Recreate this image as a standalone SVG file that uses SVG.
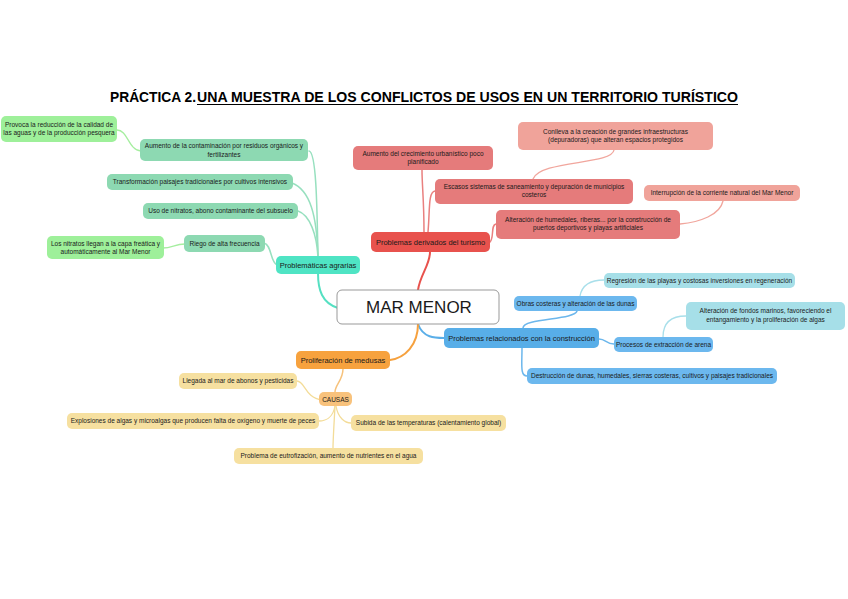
<svg xmlns="http://www.w3.org/2000/svg" width="848" height="599" viewBox="0 0 848 599">
<style>
text{font-family:"Liberation Sans",Arial,sans-serif;fill:#1a1a1a;text-anchor:middle}
.t{font-size:6.5px}
.m{font-size:7.5px}
.title{font-size:15px;font-weight:bold;text-anchor:start;fill:#000}
.c{fill:none;stroke-linecap:round}
.gm{stroke:#55e0c2;stroke-width:2}
.gc{stroke:#97e0bf;stroke-width:1.5}
.gg{stroke:#a5ee9f;stroke-width:1.3}
.rm{stroke:#e8524d;stroke-width:2}
.rc{stroke:#e9807f;stroke-width:1.5}
.rg{stroke:#f1a69d;stroke-width:1.3}
.bm{stroke:#5aaee8;stroke-width:2}
.bc{stroke:#6cb7ec;stroke-width:1.5}
.bg{stroke:#a8dfea;stroke-width:1.3}
.om{stroke:#f6a13e;stroke-width:2}
.oc{stroke:#f6c27c;stroke-width:1.5}
.og{stroke:#f3dc98;stroke-width:1.3}
.n{rx:5;ry:5}
</style>
<rect width="848" height="599" fill="#fff"/>
<g id="title">
<text class="title" x="110" y="102" textLength="86" lengthAdjust="spacingAndGlyphs">PRÁCTICA 2.</text>
<text class="title" x="197" y="102" textLength="541" lengthAdjust="spacingAndGlyphs">UNA MUESTRA DE LOS CONFLICTOS DE USOS EN UN TERRITORIO TURÍSTICO</text>
<line x1="197" y1="104.5" x2="738" y2="104.5" stroke="#000" stroke-width="1.2"/>
</g>
<g id="connectors">
<path class="c gm" d="M338,308 C322,303 318,290 318,273"/>
<path class="c gc" d="M318,258 C317,200 316,152 309,151"/>
<path class="c gc" d="M318,258 C317,215 310,190 292,183"/>
<path class="c gc" d="M318,258 C317,235 310,215 298,211"/>
<path class="c gc" d="M277,265 C270,262 272,245 264,243"/>
<path class="c gg" d="M141,151 C128,150 128,130 117,130"/>
<path class="c gg" d="M185,244 C175,244 172,248 163,248"/>
<path class="c rm" d="M418,290 C420,275 430,265 430,252"/>
<path class="c rc" d="M424,232 C424,200 422,185 422,170"/>
<path class="c rc" d="M428,232 C430,210 428,192 435,191"/>
<path class="c rc" d="M489,243 C495,240 490,225 496,224"/>
<path class="c rg" d="M533,179 C540,160 612,165 614,150"/>
<path class="c rg" d="M680,224 C700,222 720,215 723,201"/>
<path class="c bm" d="M418,324 C423,338 435,338 444,338"/>
<path class="c bc" d="M523,328 C523,318 575,320 577,311"/>
<path class="c bc" d="M522,348 C522,365 520,376 527,376"/>
<path class="c bc" d="M599,339 C606,339 606,344 614,344"/>
<path class="c bg" d="M580,296 C582,285 590,280 604,280"/>
<path class="c bg" d="M663,337 C663,320 675,316 686,316"/>
<path class="c om" d="M418,324 C418,345 405,358 390,360"/>
<path class="c oc" d="M343,369 C343,380 335,385 335,392"/>
<path class="c og" d="M322,400 C305,398 305,381 297,381"/>
<path class="c og" d="M335,406 C333,418 325,421 319,421"/>
<path class="c og" d="M336,406 C338,418 345,423 351,423"/>
<path class="c og" d="M335,406 C334,425 333,440 333,448"/>
</g>
<g id="center">
<rect x="337" y="290" width="162" height="34" rx="5" fill="#fff" stroke="#999" stroke-width="1"/>
<text x="419" y="313" style="font-size:17px">MAR MENOR</text>
</g>
<g id="g0"><rect class="n" x="276" y="256" width="84" height="18" fill="#4fe4c4"/><text class="m" x="318" y="267.7">Problemáticas agrarias</text></g>
<g id="g1"><rect class="n" x="140" y="139" width="168" height="22" fill="#8dd9b2"/><text class="t" x="224" y="148">Aumento de la contaminación por residuos orgánicos y</text><text class="t" x="224" y="156.5">fertilizantes</text></g>
<g id="g2"><rect class="n" x="1" y="116" width="116" height="26" fill="#9ef09a"/><text class="t" x="59" y="126.5">Provoca la reducción de la calidad de</text><text class="t" x="59" y="134.5">las aguas y de la producción pesquera</text></g>
<g id="g3"><rect class="n" x="107" y="174" width="186" height="16" fill="#8dd9b2"/><text class="t" x="200" y="184.3">Transformación paisajes tradicionales por cultivos intensivos</text></g>
<g id="g4"><rect class="n" x="143" y="203" width="155" height="16" fill="#8dd9b2"/><text class="t" x="220.5" y="213.3">Uso de nitratos, abono contaminante del subsuelo</text></g>
<g id="g5"><rect class="n" x="184" y="235" width="81" height="17" fill="#8dd9b2"/><text class="t" x="224.5" y="245.7">Riego de alta frecuencia</text></g>
<g id="g6"><rect class="n" x="47" y="236" width="117" height="23" fill="#9ef09a"/><text class="t" x="105.5" y="245.5">Los nitratos llegan a la capa freática y</text><text class="t" x="105.5" y="253.7">automáticamente al Mar Menor</text></g>
<g id="r0"><rect class="n" x="371" y="232" width="119" height="20" fill="#e8524d"/><text class="m" x="430.5" y="244.7">Problemas derivados del turismo</text></g>
<g id="r1"><rect class="n" x="353" y="146" width="140" height="24" fill="#e57b7b"/><text class="t" x="423" y="155.7">Aumento del crecimiento urbanístico poco</text><text class="t" x="423" y="164">planificado</text></g>
<g id="r2"><rect class="n" x="435" y="179" width="198" height="25" fill="#e57b7b"/><text class="t" x="534" y="188.7">Escasos sistemas de saneamiento y depuración de municipios</text><text class="t" x="534" y="197">costeros</text></g>
<g id="r3"><rect class="n" x="496" y="210" width="184" height="29" fill="#e57b7b"/><text class="t" x="588" y="221.5">Alteración de humedales, riberas... por la construcción de</text><text class="t" x="588" y="230">puertos deportivos y playas artificiales</text></g>
<g id="r4"><rect class="n" x="518" y="122" width="195" height="28" fill="#f0a39a"/><text class="t" x="615.5" y="133.5">Conlleva a la creación de grandes infraestructuras</text><text class="t" x="615.5" y="141.7">(depuradoras) que alteran espacios protegidos</text></g>
<g id="r5"><rect class="n" x="644" y="185" width="156" height="16" fill="#f0a39a"/><text class="t" x="722" y="195.3">Interrupción de la corriente natural del Mar Menor</text></g>
<g id="b0"><rect class="n" x="444" y="328" width="155" height="20" fill="#58aee8"/><text class="m" x="521.5" y="340.7">Problemas relacionados con la construcción</text></g>
<g id="b1"><rect class="n" x="514" y="296" width="123" height="15" fill="#6cb8ee"/><text class="t" x="575.5" y="305.8">Obras costeras y alteración de las dunas</text></g>
<g id="b2"><rect class="n" x="614" y="337" width="99" height="15" fill="#6cb8ee"/><text class="t" x="663.5" y="346.8">Procesos de extracción de arena</text></g>
<g id="b3"><rect class="n" x="527" y="368" width="250" height="16" fill="#6cb8ee"/><text class="t" x="652" y="378.3">Destrucción de dunas, humedales, sierras costeras, cultivos y paisajes tradicionales</text></g>
<g id="b4"><rect class="n" x="604" y="273" width="191" height="15" fill="#a6dfe8"/><text class="t" x="699.5" y="282.8">Regresión de las playas y costosas inversiones en regeneración</text></g>
<g id="b5"><rect class="n" x="686" y="302" width="159" height="28" fill="#a6dfe8"/><text class="t" x="765.5" y="313">Alteración de fondos marinos, favoreciendo el</text><text class="t" x="765.5" y="321.5">entangamiento y la proliferación de algas</text></g>
<g id="o0"><rect class="n" x="296" y="351" width="94" height="18" fill="#f7a23e"/><text class="m" x="343" y="362.7">Proliferación de medusas</text></g>
<g id="o1"><rect class="n" x="319" y="392" width="33" height="14" fill="#f8c27c"/><text class="t" x="335.5" y="401.5">CAUSAS</text></g>
<g id="o2"><rect class="n" x="179" y="373" width="118" height="16" fill="#f6e0a0"/><text class="t" x="238" y="383.3">Llegada al mar de abonos y pesticidas</text></g>
<g id="o3"><rect class="n" x="67" y="413" width="252" height="16" fill="#f6e0a0"/><text class="t" x="193" y="423.3">Explosiones de algas y microalgas que producen falta de oxígeno y muerte de peces</text></g>
<g id="o4"><rect class="n" x="351" y="415" width="155" height="16" fill="#f6e0a0"/><text class="t" x="428.5" y="425.3">Subida de las temperaturas (calentamiento global)</text></g>
<g id="o5"><rect class="n" x="234" y="448" width="189" height="16" fill="#f6e0a0"/><text class="t" x="328.5" y="458.3">Problema de eutrofización, aumento de nutrientes en el agua</text></g>
</svg>
